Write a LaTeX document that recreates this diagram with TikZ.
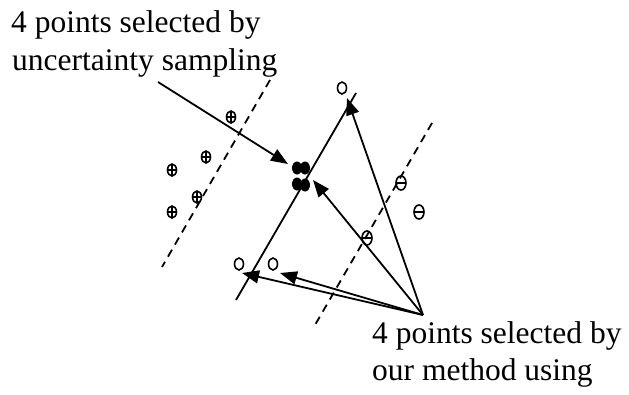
\documentclass[tikz,border=0pt]{standalone}
\usepackage{fontspec}
\setmainfont{Liberation Serif}
\usetikzlibrary{arrows.meta,shapes.geometric}
\begin{document}
\begin{tikzpicture}[x=1pt,y=-1pt,
  lbl/.style={anchor=base west, inner sep=0pt, font=\fontsize{31.5}{38}\selectfont},
  ln/.style={line width=1.8pt},
  arr/.style={ln, -{Triangle[length=17pt,width=13pt]}},
  dsh/.style={line width=1.8pt, dash pattern=on 8pt off 6pt},
  pt/.style={ellipse, draw, line width=1.6pt, inner sep=0pt, minimum width=9pt, minimum height=12pt},
  pluspt/.style={pt, path picture={\draw[line width=1.4pt]
      (path picture bounding box.north) -- (path picture bounding box.south)
      (path picture bounding box.west) -- (path picture bounding box.east);}},
  minuspt/.style={pt, minimum width=10pt, minimum height=14pt, path picture={\draw[line width=1.4pt]
      (path picture bounding box.west) -- (path picture bounding box.east);}},
  sel/.style={ellipse, fill, inner sep=0pt, minimum width=10pt, minimum height=13pt}]
\useasboundingbox (0,0) rectangle (629,394);

% labels
\node[lbl] (t1) at (11,32) {4 points selected by};
\node[lbl] (t2) at (12,70) {uncertainty sampling};
\node[lbl] (t3) at (372,343) {4 points selected by};
\node[lbl] (t4) at (372,380) {our method using};

% dashed margins
\coordinate (d1a) at (270,80);
\coordinate (d1b) at (162,267);
\coordinate (d2a) at (432,123);
\coordinate (d2b) at (315,325);
\draw[dsh] (d1a) -- (d1b);
\draw[dsh] (d2a) -- (d2b);

% classifier line
\coordinate (ca) at (236,300);
\coordinate (cb) at (356,93);
\draw[ln] (ca) -- (cb);

% positive points
\node[pluspt] (p1) at (231,117) {};
\node[pluspt] (p2) at (206,157) {};
\node[pluspt] (p3) at (172,170) {};
\node[pluspt] (p4) at (197,197) {};
\node[pluspt] (p5) at (172,212) {};

% negative points
\node[minuspt] (m1) at (401,183) {};
\node[minuspt] (m2) at (419,212) {};
\node[minuspt] (m3) at (367,238) {};

% unlabeled points
\node[pt] (u1) at (342,88) {};
\node[pt] (u2) at (239,264) {};
\node[pt] (u3) at (273,264) {};

% selected cluster
\node[sel] (s1) at (297,168) {};
\node[sel] (s2) at (305,168) {};
\node[sel] (s3) at (297,184) {};
\node[sel] (s4) at (305,185) {};

% arrows
\coordinate (ua) at (158,82);
\coordinate (ub) at (288,164);
\draw[arr] (ua) -- (ub);

\coordinate (src) at (423,315);
\coordinate (tA) at (347,98);
\coordinate (tB) at (313,180);
\coordinate (tC) at (280,273);
\coordinate (tD) at (242,273);
\draw[arr] (src) -- (tA);
\draw[arr] (src) -- (tB);
\draw[arr] (src) -- (tC);
\draw[arr] (src) -- (tD);
\end{tikzpicture}
\end{document}
